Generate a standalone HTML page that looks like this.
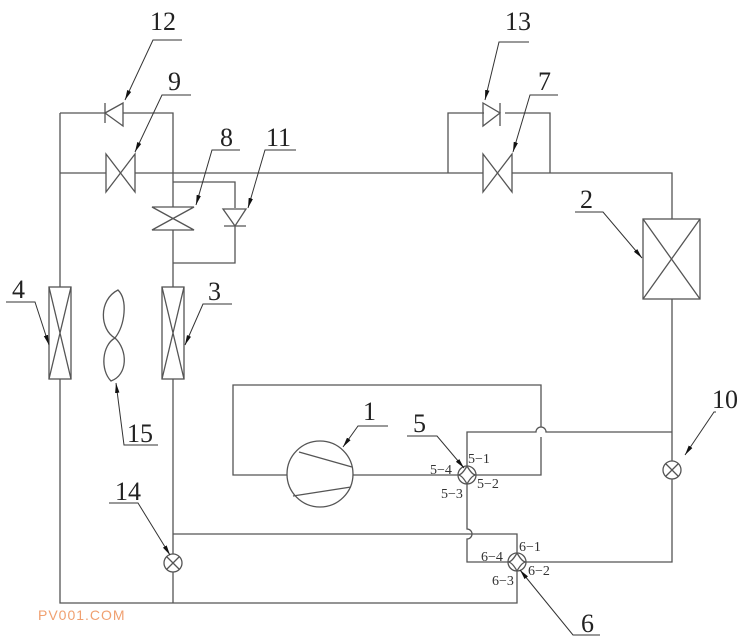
<!DOCTYPE html>
<html><head><style>body{margin:0;background:#fff}svg{display:block}</style></head><body>
<svg width="750" height="642" viewBox="0 0 750 642" xmlns="http://www.w3.org/2000/svg">
<defs><marker id="a" markerWidth="10" markerHeight="6" refX="10" refY="3" orient="auto" markerUnits="userSpaceOnUse"><path d="M0,0.8 L10,3 L0,5.2Z" fill="#111"/></marker></defs>
<g fill="none" stroke="#555" stroke-width="1.3">
<path d="M60,113 H105 M123,113 H173 V173 M60,113 V287 M60,379 V603 H517 V571"/>
<path d="M60,173 H106 M135,173 H483 M512,173 H672 V219 M672,299 V461 M672,479 V562 H526"/>
<path d="M105,103 V123 M105,113 L123,103 V126 Z"/>
<path d="M106,154 L135,192 V154 L106,192 Z"/>
<path d="M173,173 V207 M173,230 V287 M173,182 H235 V208 M235,226 V263 H173"/>
<path d="M152,207 H194 L152,230 H194 Z"/>
<path d="M223,209 H246 L235,226 Z M224,226 H246"/>
<path d="M448,173 V113 H484 M505,113 H550 V173"/>
<path d="M483,103 L500,113 L483,126 Z M500,103 V126"/>
<path d="M483,154 L512,192 V154 L483,192 Z"/>
<rect x="643" y="219" width="57" height="80"/><path d="M643,219 L700,299 M700,219 L643,299"/>
<rect x="49" y="287" width="22" height="92"/><path d="M49,287 L71,379 M71,287 L49,379"/>
<rect x="162" y="287" width="22" height="92"/><path d="M162,287 L184,379 M184,287 L162,379"/>
<path d="M173,379 V554 M173,572 V603 M173,534 H517 V553"/>
<circle cx="173" cy="563" r="9"/><path d="M167,557 L179,569 M179,557 L167,569"/>
<path d="M118,290 C98,300 100,330 115,338 C128,350 128,375 111,381 C100,370 102,345 115,338 C125,325 128,300 118,290 Z"/>
<path d="M287,475 H233 V385 H541 V427 M541,437 V475 H476"/>
<circle cx="320" cy="474" r="33"/>
<path d="M299,452 L352,467 M293,496 L351,487"/>
<path d="M353,475 H458"/>
<circle cx="467" cy="475" r="9"/><path d="M467,466 Q472,475 476,475 Q472,475 467,484 Q462,475 458,475 Q462,475 467,466"/>
<path d="M467,466 V432 H536 A5,5 0 0 1 546,432 H672"/>
<path d="M467,484 V529 A5,5 0 0 1 467,539 V562 H508"/>
<circle cx="517" cy="562" r="9"/><path d="M517,553 Q522,562 526,562 Q522,562 517,571 Q512,562 508,562 Q512,562 517,553"/>
<circle cx="672" cy="470" r="9"/><path d="M666,464 L678,476 M678,464 L666,476"/>
</g>
<g stroke="#333" stroke-width="1" fill="none">
<path d="M182,40 H153 L125,100" marker-end="url(#a)"/>
<path d="M191,95 H162 L135,152" marker-end="url(#a)"/>
<path d="M240,150 H212 L196,205" marker-end="url(#a)"/>
<path d="M296,150 H265 L248,208" marker-end="url(#a)"/>
<path d="M529,42 H499 L485,100" marker-end="url(#a)"/>
<path d="M558,95 H530 L513,152" marker-end="url(#a)"/>
<path d="M575,212 H603 L642,258" marker-end="url(#a)"/>
<path d="M6,302 H35 L49,345" marker-end="url(#a)"/>
<path d="M232,304 H203 L185,345" marker-end="url(#a)"/>
<path d="M158,445 H124 L116,383" marker-end="url(#a)"/>
<path d="M388,426 H358 L343,447" marker-end="url(#a)"/>
<path d="M407,436 H437 L464,468" marker-end="url(#a)"/>
<path d="M716,412 H714 L685,455" marker-end="url(#a)"/>
<path d="M109,503 H138 L170,555" marker-end="url(#a)"/>
<path d="M600,635 H573 L520,570" marker-end="url(#a)"/>
</g>
<g font-family="Liberation Serif, serif" font-size="26" fill="#222">
<text x="150" y="30">12</text><text x="168" y="90">9</text><text x="220" y="146">8</text><text x="266" y="146">11</text>
<text x="505" y="30">13</text><text x="538" y="90">7</text><text x="580" y="208">2</text>
<text x="12" y="298">4</text><text x="208" y="300">3</text><text x="127" y="442">15</text>
<text x="363" y="420">1</text><text x="413" y="432">5</text><text x="712" y="408">10</text>
<text x="115" y="500">14</text><text x="581" y="632">6</text>
</g>
<g font-family="Liberation Serif, serif" font-size="14" fill="#333">
<text x="430" y="474">5−4</text><text x="468" y="463">5−1</text><text x="477" y="488">5−2</text><text x="441" y="498">5−3</text>
<text x="481" y="561">6−4</text><text x="519" y="551">6−1</text><text x="528" y="575">6−2</text><text x="492" y="585">6−3</text>
</g>
<text x="38" y="620" font-family="Liberation Sans, sans-serif" font-size="14" fill="#f0a070" letter-spacing="1">PV001.COM</text>
</svg>
</body></html>
